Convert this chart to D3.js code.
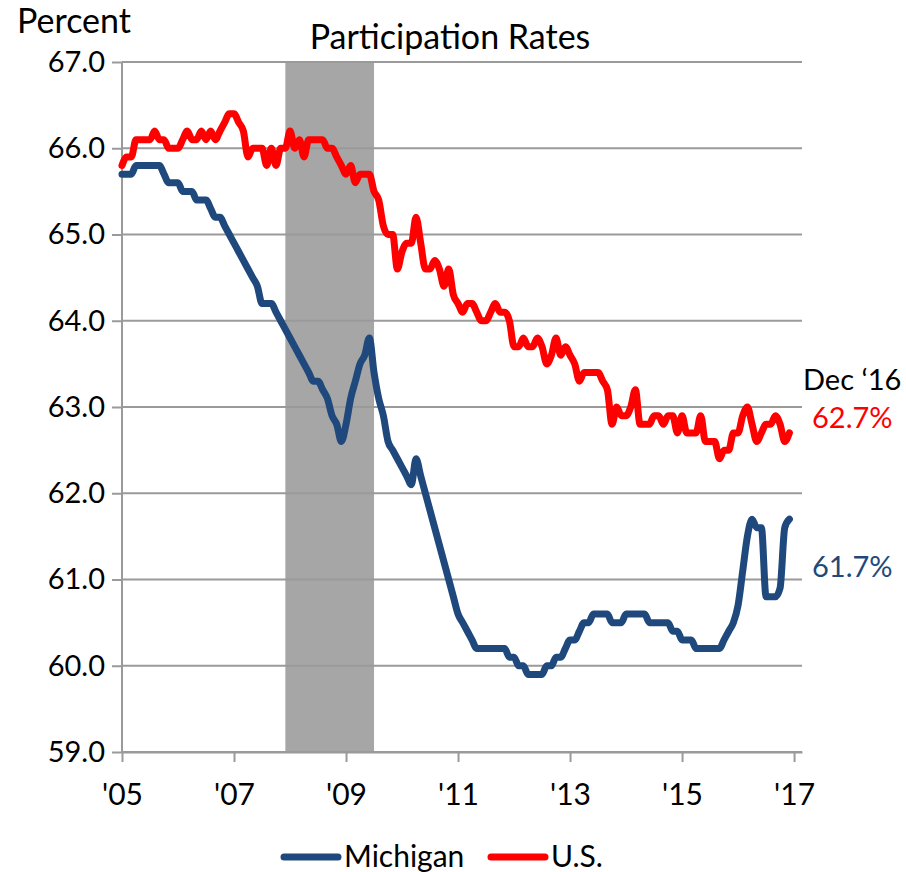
<!DOCTYPE html>
<html>
<head>
<meta charset="utf-8">
<script src="https://cdn.jsdelivr.net/npm/d3@7"></script>
<style>
  body { margin: 0; background: #fff; }
  svg { display: block; }
  text { font-family: Lato, 'Noto Sans', sans-serif; }
</style>
</head>
<body>
<script>
// monthly values, Jan 2005 .. Dec 2016
const michigan = [
  65.7, 65.7, 65.7, 65.8, 65.8, 65.8, 65.8, 65.8, 65.8, 65.7, 65.6, 65.6,
  65.6, 65.5, 65.5, 65.5, 65.4, 65.4, 65.4, 65.3, 65.2, 65.2, 65.1, 65.0,
  64.9, 64.8, 64.7, 64.6, 64.5, 64.4, 64.2, 64.2, 64.2, 64.1, 64.0, 63.9,
  63.8, 63.7, 63.6, 63.5, 63.4, 63.3, 63.3, 63.2, 63.1, 62.9, 62.8, 62.6,
  62.8, 63.1, 63.3, 63.5, 63.6, 63.8, 63.4, 63.1, 62.9, 62.6, 62.5, 62.4,
  62.3, 62.2, 62.1, 62.4, 62.2, 62.0, 61.8, 61.6, 61.4, 61.2, 61.0, 60.8,
  60.6, 60.5, 60.4, 60.3, 60.2, 60.2, 60.2, 60.2, 60.2, 60.2, 60.2, 60.1,
  60.1, 60.0, 60.0, 59.9, 59.9, 59.9, 59.9, 60.0, 60.0, 60.1, 60.1, 60.2,
  60.3, 60.3, 60.4, 60.5, 60.5, 60.6, 60.6, 60.6, 60.6, 60.5, 60.5, 60.5,
  60.6, 60.6, 60.6, 60.6, 60.6, 60.5, 60.5, 60.5, 60.5, 60.5, 60.4, 60.4,
  60.3, 60.3, 60.3, 60.2, 60.2, 60.2, 60.2, 60.2, 60.2, 60.3, 60.4, 60.5,
  60.7, 61.1, 61.5, 61.7, 61.6, 61.6, 60.8, 60.8, 60.8, 60.9, 61.6, 61.7
]

const us = [
  65.8, 65.9, 65.9, 66.1, 66.1, 66.1, 66.1, 66.2, 66.1, 66.1, 66.0, 66.0,
  66.0, 66.1, 66.2, 66.1, 66.1, 66.2, 66.1, 66.2, 66.1, 66.2, 66.3, 66.4,
  66.4, 66.3, 66.2, 65.9, 66.0, 66.0, 66.0, 65.8, 66.0, 65.8, 66.0, 66.0,
  66.2, 66.0, 66.1, 65.9, 66.1, 66.1, 66.1, 66.1, 66.0, 66.0, 65.9, 65.8,
  65.7, 65.8, 65.6, 65.7, 65.7, 65.7, 65.5, 65.4, 65.1, 65.0, 65.0, 64.6,
  64.8, 64.9, 64.9, 65.2, 64.9, 64.6, 64.6, 64.7, 64.6, 64.4, 64.6, 64.3,
  64.2, 64.1, 64.2, 64.2, 64.1, 64.0, 64.0, 64.1, 64.2, 64.1, 64.1, 64.0,
  63.7, 63.7, 63.8, 63.7, 63.7, 63.8, 63.7, 63.5, 63.6, 63.8, 63.6, 63.7,
  63.6, 63.5, 63.3, 63.4, 63.4, 63.4, 63.4, 63.3, 63.2, 62.8, 63.0, 62.9,
  62.9, 63.0, 63.2, 62.8, 62.8, 62.8, 62.9, 62.9, 62.8, 62.9, 62.9, 62.7,
  62.9, 62.7, 62.7, 62.7, 62.9, 62.6, 62.6, 62.6, 62.4, 62.5, 62.5, 62.7,
  62.7, 62.9, 63.0, 62.8, 62.6, 62.7, 62.8, 62.8, 62.9, 62.8, 62.6, 62.7
]

const xTickMonths = [0, 24, 48, 72, 96, 120, 144]
const xTickLabels = ["'05", "'07", "'09", "'11", "'13", "'15", "'17"]
const yTicks = [59, 60, 61, 62, 63, 64, 65, 66, 67]
// recession, Dec 2007 through Jun 2009 (month index)
const recession = [35, 54]

const seriesNames = ['Michigan', 'U.S.']
const seriesColors = ['#1f497d', '#ff0000']

const W = 906, H = 872
const plotLeft = 122, plotRight = 802, plotTop = 62, plotBottom = 752
const gridColor = '#9a9a9a'

const svg = d3.select('body').append('svg')
  .attr('width', W)
  .attr('height', H)

svg.append('rect').attr('width', W).attr('height', H).attr('fill', '#fff')

const x = d3.scaleLinear().domain([0, 145.7]).range([plotLeft, plotRight])
const y = d3.scaleLinear().domain([59, 67]).range([plotBottom, plotTop])

// recession band
svg.append('rect')
  .attr('x', x(recession[0]))
  .attr('y', y(67))
  .attr('width', x(recession[1]) - x(recession[0]))
  .attr('height', y(59) - y(67))
  .attr('fill', '#a6a6a6')

// y axis
const yAxis = svg.append('g')
  .attr('transform', `translate(${plotLeft},0)`)
  .call(d3.axisLeft(y).tickValues(yTicks).tickFormat(d3.format('.1f')).tickSize(10).tickPadding(7))
yAxis.select('.domain').remove()
yAxis.selectAll('.tick line').attr('stroke', gridColor).attr('stroke-width', 2)
yAxis.selectAll('.tick text').attr('font-size', 29).attr('fill', '#000')

// gridlines
svg.append('g')
  .selectAll('line')
  .data(yTicks)
  .join('line')
  .attr('x1', plotLeft)
  .attr('x2', plotRight)
  .attr('y1', d => y(d))
  .attr('y2', d => y(d))
  .attr('stroke', gridColor)
  .attr('stroke-width', 2)

svg.append('line')
  .attr('x1', plotLeft).attr('x2', plotLeft)
  .attr('y1', plotTop).attr('y2', plotBottom)
  .attr('stroke', gridColor)
  .attr('stroke-width', 2)

// x axis
const xAxis = svg.append('g')
  .attr('transform', `translate(0,${plotBottom})`)
  .call(d3.axisBottom(x).tickValues(xTickMonths)
    .tickFormat((d, i) => xTickLabels[i]).tickSize(10).tickPadding(22).tickSizeOuter(0))
xAxis.select('.domain').attr('stroke', gridColor).attr('stroke-width', 2)
xAxis.selectAll('.tick line').attr('stroke', gridColor).attr('stroke-width', 2)
xAxis.selectAll('.tick text').attr('font-size', 30).attr('fill', '#000')

// lines
const line = d3.line()
  .x((d, i) => x(i))
  .y(d => y(d))
  .curve(d3.curveMonotoneX)

svg.append('path')
  .datum(michigan)
  .attr('d', line)
  .attr('fill', 'none')
  .attr('stroke', seriesColors[0])
  .attr('stroke-width', 7)
  .attr('stroke-linejoin', 'round')
  .attr('stroke-linecap', 'round')

svg.append('path')
  .datum(us)
  .attr('d', line)
  .attr('fill', 'none')
  .attr('stroke', seriesColors[1])
  .attr('stroke-width', 7)
  .attr('stroke-linejoin', 'round')
  .attr('stroke-linecap', 'round')

// titles
svg.append('text')
  .attr('x', 450).attr('y', 49)
  .attr('text-anchor', 'middle')
  .attr('font-size', 34)
  .text('Participation Rates')

svg.append('text')
  .attr('x', 17).attr('y', 33)
  .attr('font-size', 34)
  .text('Percent')

// end labels
svg.append('text')
  .attr('x', 803).attr('y', 390)
  .attr('font-size', 29)
  .text('Dec \u201816')

svg.append('text')
  .attr('x', 812).attr('y', y(us[us.length - 1]) - 5)
  .attr('font-size', 29)
  .attr('fill', seriesColors[1])
  .text(d3.format('.1f')(us[us.length - 1]) + '%')

svg.append('text')
  .attr('x', 812).attr('y', y(michigan[michigan.length - 1]) + 58)
  .attr('font-size', 29)
  .attr('fill', seriesColors[0])
  .text(d3.format('.1f')(michigan[michigan.length - 1]) + '%')

// legend
const legend = svg.append('g')
const legendItems = [
  { name: seriesNames[0], color: seriesColors[0], x: 284 },
  { name: seriesNames[1], color: seriesColors[1], x: 491 }
]
legendItems.forEach(d => {
  legend.append('line')
    .attr('x1', d.x).attr('x2', d.x + 54)
    .attr('y1', 857).attr('y2', 857)
    .attr('stroke', d.color)
    .attr('stroke-width', 7)
    .attr('stroke-linecap', 'round')
  legend.append('text')
    .attr('x', d.x + 60).attr('y', 867)
    .attr('font-size', 30)
    .text(d.name)
})
</script>
</body>
</html>
